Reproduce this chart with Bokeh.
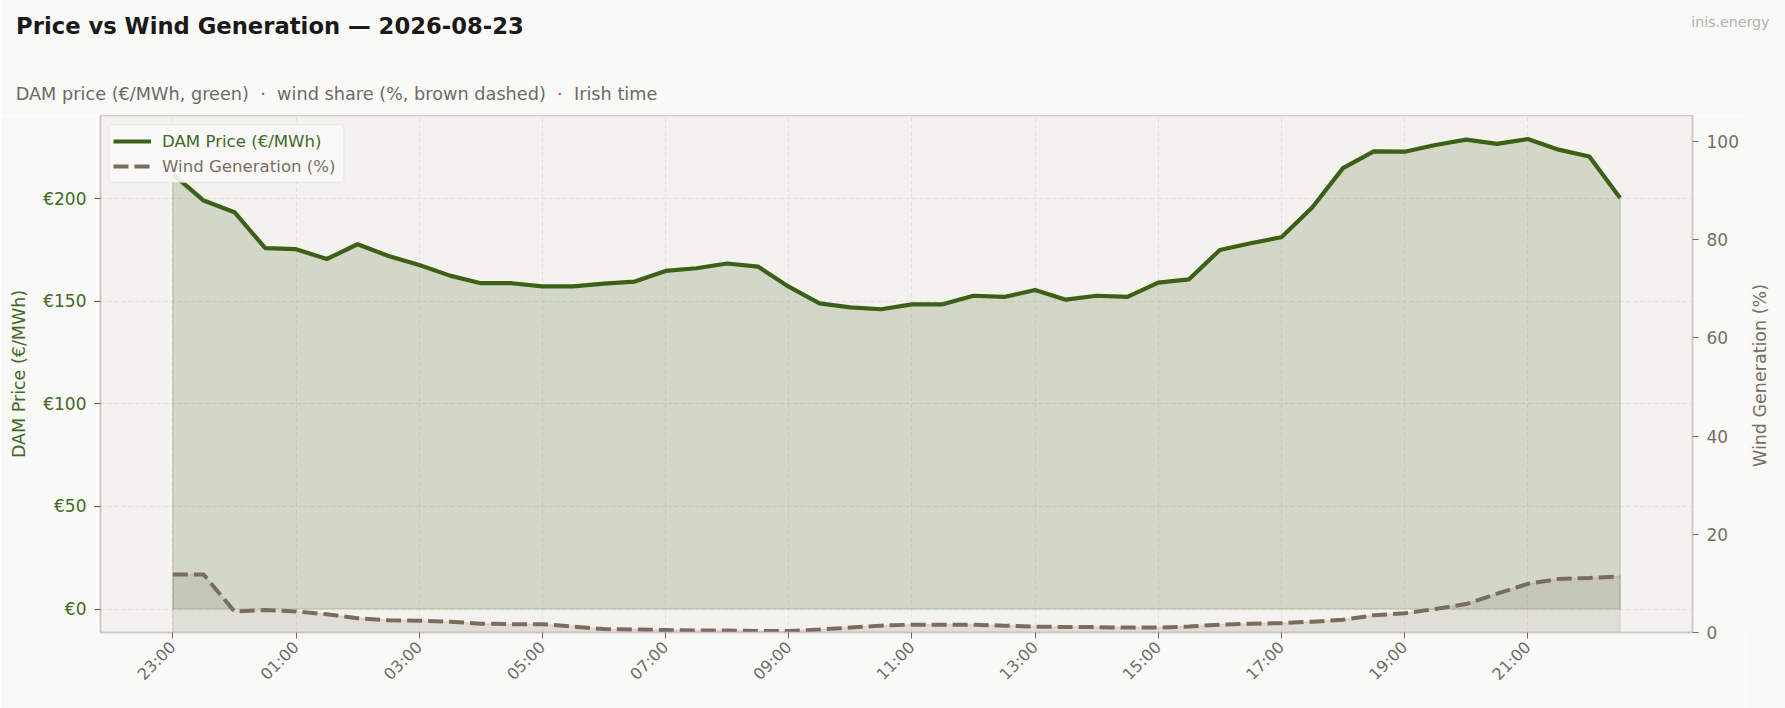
import math
import numpy as np
import pandas as pd
from bokeh.plotting import figure
from bokeh.layouts import column, row
from bokeh.models import (Range1d, LinearAxis, FixedTicker, DatetimeTickFormatter,
                          PrintfTickFormatter, Legend, LegendItem, Label, BoxAnnotation)
from bokeh.embed import file_html
from bokeh.resources import INLINE

# Texts (non-breaking spaces keep the wide gaps around the dots)
NBSP = "\u00a0"
TITLE = "Price vs Wind Generation — 2026-08-23"
SUBTITLE = (f"DAM price (€/MWh, green){NBSP}{NBSP}·{NBSP}{NBSP}wind share (%, brown dashed)"
            f"{NBSP}{NBSP}·{NBSP}{NBSP}Irish time")
BRAND = "inis.energy"
PRICE_LABEL = "DAM Price (€/MWh)"
WIND_LABEL = "Wind Generation (%)"

# Data (half-hourly, Irish time)
times = pd.date_range("2026-08-22 23:00", periods=48, freq="30min")
dam_price = [212.0, 199.1, 193.4, 175.9, 175.4, 170.6, 177.8, 172.1, 167.7, 162.5,
             158.8, 158.8, 157.3, 157.3, 158.6, 159.6, 164.8, 166.1, 168.4, 166.9,
             157.1, 149.0, 147.0, 146.1, 148.5, 148.5, 152.7, 152.1, 155.5, 150.8,
             152.7, 152.1, 159.1, 160.7, 175.0, 178.3, 181.2, 195.7, 214.9, 223.1,
             222.9, 226.2, 228.8, 226.7, 229.1, 223.9, 220.6, 200.3]
wind_share = [11.8, 11.8, 4.3, 4.6, 4.3, 3.7, 2.9, 2.5, 2.4, 2.2,
              1.8, 1.7, 1.7, 1.2, 0.7, 0.6, 0.5, 0.4, 0.4, 0.3,
              0.3, 0.6, 1.0, 1.4, 1.6, 1.6, 1.6, 1.4, 1.2, 1.1,
              1.1, 1.0, 1.0, 1.2, 1.6, 1.8, 1.9, 2.2, 2.6, 3.5,
              3.9, 4.8, 5.8, 7.9, 9.9, 10.9, 11.1, 11.4]
price_ticks = [0, 50, 100, 150, 200]
wind_ticks = [0, 20, 40, 60, 80, 100]
x_ticks = times[::4]

# Colours
PAGE = "#f9f9f7"
GREEN = "#3b6016"
GREEN_TXT = "#3f6a1f"
BROWN = "#7b6c5c"
BROWN_TXT = "#7a6e62"
GREY_TXT = "#6e6a66"
SPINE = "#cdc8c1"
GRID = "#e2e0db"
FONT = "DejaVu Sans"

# Page split: header strip, main plot, right label strip
W, H = 1785, 708
HEAD_H = 115
STRIP_W = 40


def blank_figure(width, height):
    """A figure whose frame is the whole canvas, used only to hold text."""
    f = figure(width=width, height=height, x_axis_type=None, y_axis_type=None,
               x_range=Range1d(0, 1), y_range=Range1d(0, 1), title=None,
               output_backend="svg", toolbar_location=None, tools="", min_border=0,
               background_fill_color=PAGE, border_fill_color=PAGE, outline_line_color=None)
    f.grid.visible = False
    return f


def create_header():
    h = blank_figure(W, HEAD_H)
    h.add_layout(Label(x=15.6, y=25, x_units="canvas", y_units="canvas", text=TITLE,
                       text_font=FONT, text_font_style="bold", text_font_size="22.7px",
                       text_color="#1b1a18", text_baseline="alphabetic"))
    h.add_layout(Label(x=15.2, y=93.5, x_units="canvas", y_units="canvas", text=SUBTITLE,
                       text_font=FONT, text_font_size="17.7px",
                       text_color=GREY_TXT, text_baseline="alphabetic"))
    h.add_layout(Label(x=1769, y=21, x_units="canvas", y_units="canvas", text=BRAND,
                       text_font=FONT, text_font_size="14.2px", text_align="right",
                       text_color="#b3b1ad", text_baseline="alphabetic"))
    return h


def create_strip():
    s = blank_figure(STRIP_W, H - HEAD_H)
    s.add_layout(Label(x=14, y=260, x_units="canvas", y_units="canvas", text=WIND_LABEL,
                       angle=math.pi / 2, text_font=FONT, text_font_size="17.5px",
                       text_align="center", text_baseline="middle", text_color=BROWN_TXT))
    return s


def create_plot():
    span = times[-1] - times[0]
    pad = span * 0.05
    top = max(dam_price) * 1.05
    p = figure(
        width=W - STRIP_W, height=H - HEAD_H, x_axis_type="datetime", title=None,
        x_range=Range1d(times[0] - pad, times[-1] + pad),
        y_range=Range1d(-max(dam_price) * 0.05, top),
        output_backend="svg", toolbar_location=None, tools="",
        min_border_left=100, min_border_right=53, min_border_top=0, min_border_bottom=76,
        background_fill_color="#f3f2ef", border_fill_color=PAGE,
    )
    p.outline_line_color = SPINE
    p.outline_line_width = 1.5
    p.extra_y_ranges = {"wind": Range1d(start=0, end=105.3)}

    # Areas and lines
    xs = np.concatenate([times[:1].values, times.values, times[-1:].values])
    p.patch(xs, [0] + dam_price + [0], fill_color=GREEN, fill_alpha=0.18,
            line_color=GREEN, line_alpha=0.18, line_width=1.5)
    price_line = p.line(times, dam_price, line_color=GREEN, line_width=4.2, line_join="round")
    p.patch(xs, [0] + wind_share + [0], y_range_name="wind", fill_color=BROWN, fill_alpha=0.15,
            line_color=BROWN, line_alpha=0.15, line_width=1.5)
    wind_line = p.line(times, wind_share, y_range_name="wind", line_color=BROWN,
                       line_width=4, line_dash="15 6")

    # Axes
    x_ms = [t.value // 10**6 for t in x_ticks]
    xa = p.xaxis[0]
    xa.ticker = FixedTicker(ticks=x_ms)
    xa.formatter = DatetimeTickFormatter(hours="%H:%M", days="%H:%M")
    xa.major_label_orientation = math.pi / 4
    xa.major_label_text_font = FONT
    xa.major_label_text_font_size = "16px"
    xa.major_label_text_color = GREY_TXT
    xa.major_tick_line_color = GREY_TXT
    xa.major_tick_out = 6
    xa.major_tick_in = 0
    xa.minor_tick_line_color = None
    xa.axis_line_color = SPINE
    xa.axis_line_width = 1.5
    xa.major_label_standoff = 6

    ya = p.yaxis[0]
    ya.ticker = FixedTicker(ticks=price_ticks)
    ya.formatter = PrintfTickFormatter(format="€%d")
    ya.axis_label = PRICE_LABEL
    style_y_axis(ya, GREEN_TXT)

    wa = LinearAxis(y_range_name="wind", ticker=FixedTicker(ticks=wind_ticks))
    style_y_axis(wa, BROWN_TXT)
    p.add_layout(wa, "right")

    p.xgrid.ticker = FixedTicker(ticks=x_ms)
    p.ygrid.ticker = FixedTicker(ticks=price_ticks)
    for g in (p.xgrid, p.ygrid):
        g.grid_line_color = GRID
        g.grid_line_dash = "4 3"
        g.grid_line_width = 1

    add_legend(p, price_line, wind_line)
    return p


def style_y_axis(ax, color):
    ax.major_label_text_font = FONT
    ax.major_label_text_font_size = "17px"
    ax.major_label_text_color = color
    ax.axis_label_text_font = FONT
    ax.axis_label_text_font_size = "17.5px"
    ax.axis_label_text_font_style = "normal"
    ax.axis_label_text_color = color
    ax.major_tick_line_color = color
    ax.major_tick_out = 6
    ax.major_tick_in = 0
    ax.minor_tick_line_color = None
    ax.axis_line_color = SPINE
    ax.axis_line_width = 1.5
    ax.major_label_standoff = 8
    ax.axis_label_standoff = 11


def add_legend(p, price_line, wind_line):
    box = BoxAnnotation(left=108.5, right=343.5, top=9, bottom=67,
                        left_units="canvas", right_units="canvas",
                        top_units="canvas", bottom_units="canvas",
                        fill_color="#f9f9f8", fill_alpha=0.92,
                        line_color="#d4d0ca", line_width=1.5, border_radius=4)
    p.add_layout(box)
    entries = ((LegendItem(label=PRICE_LABEL, renderers=[price_line]), GREEN_TXT, (13, 480)),
               (LegendItem(label=WIND_LABEL, renderers=[wind_line]), BROWN_TXT, (13, 455)))
    for item, color, loc in entries:
        leg = Legend(items=[item], location=loc)
        leg.padding = 6
        leg.margin = 0
        leg.spacing = 0
        leg.glyph_width = 38
        leg.glyph_height = 22
        leg.label_height = 22
        leg.label_standoff = 11
        leg.label_text_font = FONT
        leg.label_text_font_size = "16.6px"
        leg.label_text_color = color
        leg.border_line_color = None
        leg.background_fill_alpha = 0
        p.add_layout(leg)


page = column(create_header(), row(create_plot(), create_strip()))
html = file_html(page, INLINE)
html = html.replace("<body>", '<body style="background:#f9f9f7">', 1)
open("out.html", "w").write(html)
